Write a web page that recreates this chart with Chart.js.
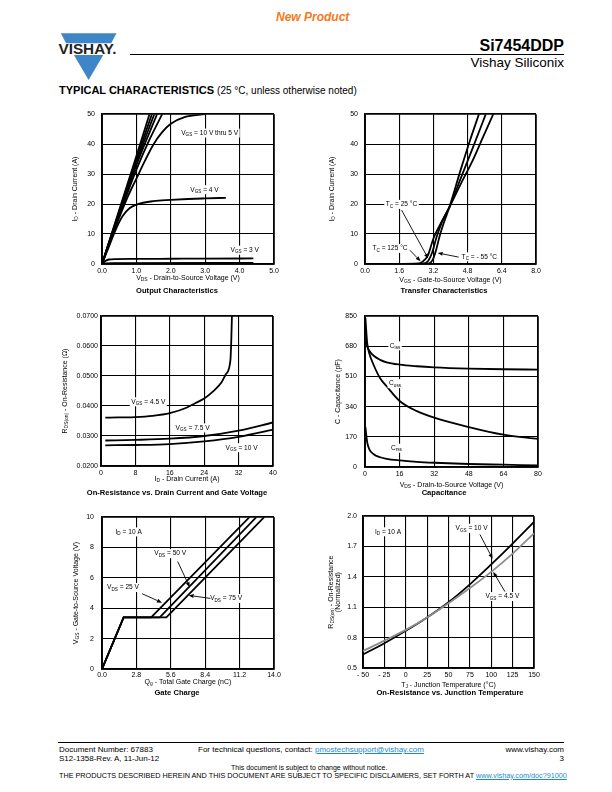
<!DOCTYPE html>
<html>
<head>
<meta charset="utf-8">
<script src="https://cdn.jsdelivr.net/npm/chart.js@4.4.1/dist/chart.umd.min.js"></script>
<style>
  body { margin: 0; background: #fff; font-family: "Liberation Sans", Arial, sans-serif; color: #000; }
  #page { position: relative; width: 612px; height: 792px; overflow: hidden; }
  .t { position: absolute; white-space: nowrap; line-height: 1; }
  .r { text-align: right; }
  .ct { position: absolute; white-space: nowrap; line-height: 1; font-weight: bold; font-size: 7.6px; transform: translateX(-50%); }
  canvas { position: absolute; }
  a { color: #1a8ad4; text-decoration: underline; }
</style>
</head>
<body>
<div id="page">
  <!-- header -->
  <div class="t" style="left:276px;top:11px;font-size:12px;font-weight:bold;font-style:italic;color:#f47920;">New Product</div>
  <svg style="position:absolute;left:0;top:0" width="130" height="90">
    <polygon points="60.8,33.3 116.5,33.3 111.2,43.3 66.1,43.3" fill="#3f86c9"/>
    <polygon points="73.9,55 103.3,55 88.6,80" fill="#3f86c9"/>
    <text x="58.5" y="54" font-family="Liberation Sans, Arial" font-weight="bold" font-size="14" fill="#222" textLength="58" lengthAdjust="spacingAndGlyphs">VISHAY.</text>
  </svg>
  <div style="position:absolute;left:130px;top:53.5px;width:434px;height:1.3px;background:#000"></div>
  <div class="t r" style="right:48px;top:38px;font-size:16px;font-weight:bold;">Si7454DDP</div>
  <div class="t r" style="right:48px;top:56px;font-size:13.5px;">Vishay Siliconix</div>
  <div class="t" style="left:59px;top:84.5px;font-size:11px;font-weight:bold;">TYPICAL CHARACTERISTICS <span style="font-weight:normal;font-size:10px">(25 °C, unless otherwise noted)</span></div>

  <!-- charts -->
  <canvas id="c1"></canvas>
  <canvas id="c2"></canvas>
  <canvas id="c3"></canvas>
  <canvas id="c4"></canvas>
  <canvas id="c5"></canvas>
  <canvas id="c6"></canvas>

  <div class="ct" style="left:177px;top:287px;">Output Characteristics</div>
  <div class="ct" style="left:444px;top:287px;">Transfer Characteristics</div>
  <div class="ct" style="left:177px;top:489px;">On-Resistance vs. Drain Current and Gate Voltage</div>
  <div class="ct" style="left:444px;top:489px;">Capacitance</div>
  <div class="ct" style="left:177px;top:689px;">Gate Charge</div>
  <div class="ct" style="left:450px;top:689px;">On-Resistance vs. Junction Temperature</div>

  <!-- footer -->
  <div style="position:absolute;left:58px;top:741.5px;width:506px;height:1px;background:#000"></div>
  <div class="t" style="left:59px;top:746px;font-size:8px;">Document Number: 67883</div>
  <div class="t" style="left:59px;top:755px;font-size:8px;">S12-1358-Rev. A, 11-Jun-12</div>
  <div class="t" style="left:198px;top:746px;font-size:8px;">For technical questions, contact: <a>pmostechsupport@vishay.com</a></div>
  <div class="t r" style="right:48px;top:746px;font-size:8px;">www.vishay.com</div>
  <div class="t r" style="right:48px;top:755px;font-size:8px;">3</div>
  <div class="t" style="left:231px;top:763.5px;font-size:7px;">This document is subject to change without notice.</div>
  <div class="t" style="left:59px;top:771.5px;font-size:7.25px;">THE PRODUCTS DESCRIBED HEREIN AND THIS DOCUMENT ARE SUBJECT TO SPECIFIC DISCLAIMERS, SET FORTH AT <a>www.vishay.com/doc?91000</a></div>
</div>

<script>
// ---- data: Output Characteristics ----
const outTicksX = [0, 1, 2, 3, 4, 5];
const outLabelsX = ['0.0', '1.0', '2.0', '3.0', '4.0', '5.0'];
const outTicksY = [0, 10, 20, 30, 40, 50];
const outLabelsY = ['0', '10', '20', '30', '40', '50'];
const outV10 = [0, 0.5, 1.0, 1.38];   const outI10 = [0, 18, 36, 50];
const outV9  = [0, 0.5, 1.0, 1.45];   const outI9  = [0, 17.6, 35, 50];
const outV8  = [0, 0.5, 1.0, 1.52];   const outI8  = [0, 17.2, 34, 50];
const outV7  = [0, 0.5, 1.0, 1.6];    const outI7  = [0, 16.8, 33, 50];
const outV6  = [0, 0.5, 1.0, 1.4, 1.75]; const outI6 = [0, 16.2, 31.5, 42, 50];
const outV5  = [0, 0.25, 0.5, 0.75, 1.0, 1.25, 1.5, 1.75, 2.0, 2.4, 3.0];
const outI5  = [0, 8, 15.5, 22.5, 28.5, 34.5, 40, 44, 46.8, 49, 50];
const outV4  = [0, 0.2, 0.4, 0.6, 0.8, 1.0, 1.5, 2.0, 2.5, 3.0, 3.6];
const outI4  = [0, 5.8, 11.5, 16, 18.6, 19.8, 21, 21.4, 21.7, 21.9, 22.1];
const outV3  = [0, 0.1, 0.2, 0.4, 1, 2, 3, 4.4];
const outI3  = [0, 1.0, 1.5, 1.65, 1.7, 1.75, 1.8, 1.85];
const outV2  = [0, 0.1, 0.3, 4.4];    const outI2  = [0, 0.2, 0.3, 0.35];

// ---- data: Transfer Characteristics ----
const trTicksX = [0, 1.6, 3.2, 4.8, 6.4, 8.0];
const trLabelsX = ['0.0', '1.6', '3.2', '4.8', '6.4', '8.0'];
const trTicksY = [0, 10, 20, 30, 40, 50];
const trLabelsY = ['0', '10', '20', '30', '40', '50'];
const trV125 = [0, 2.4, 2.7, 2.95, 3.2, 3.5, 3.95, 4.5, 5.0, 5.5, 6.0];
const trI125 = [0, 0.1, 0.8, 3, 8.5, 13, 19, 27, 34, 42, 50];
const trV25  = [0, 2.7, 2.95, 3.15, 3.35, 3.6, 3.95, 4.5, 5.0, 5.65];
const trI25  = [0, 0.1, 1, 4, 9, 14, 19, 29, 38, 50];
const trVm55 = [0, 2.95, 3.15, 3.3, 3.5, 3.7, 3.95, 4.5, 4.9, 5.33];
const trIm55 = [0, 0.1, 1.2, 4, 9.5, 14, 19, 32, 41, 50];

// ---- data: On-Resistance vs. Drain Current ----
const ronTicksX = [0, 8, 16, 24, 32, 40];
const ronLabelsX = ['0', '8', '16', '24', '32', '40'];
const ronTicksY = [0.02, 0.03, 0.04, 0.05, 0.06, 0.07];
const ronLabelsY = ['0.0200', '0.0300', '0.0400', '0.0500', '0.0600', '0.0700'];
const ronI45 = [1, 4, 8, 12, 16, 20, 22, 24, 26, 28, 29, 30.1, 30.3, 30.45];
const ronR45 = [0.0361, 0.0362, 0.0363, 0.0367, 0.0376, 0.0395, 0.0410, 0.0425, 0.0448, 0.0478, 0.0505, 0.0553, 0.0620, 0.0700];
const ronI = [1, 8, 16, 24, 32, 40];
const ronR75 = [0.0285, 0.0287, 0.0291, 0.0300, 0.0318, 0.0345];
const ronR10 = [0.0269, 0.0270, 0.0273, 0.0282, 0.0297, 0.0321];

// ---- data: Capacitance ----
const capTicksX = [0, 16, 32, 48, 64, 80];
const capLabelsX = ['0', '16', '32', '48', '64', '80'];
const capTicksY = [0, 170, 340, 510, 680, 850];
const capLabelsY = ['0', '170', '340', '510', '680', '850'];
const capV = [0.2, 1, 2, 4, 7, 10, 16, 24, 32, 48, 64, 80];
const capCiss = [715, 680, 655, 627, 604, 590, 577, 568, 562, 555, 551, 549];
const capCoss = [840, 700, 640, 575, 500, 455, 372, 315, 278, 225, 182, 158];
const capCrss = [225, 140, 100, 72, 55, 46, 37, 29, 24, 17, 13, 9];

// ---- data: Gate Charge ----
const gcTicksX = [0, 2.8, 5.6, 8.4, 11.2, 14.0];
const gcLabelsX = ['0.0', '2.8', '5.6', '8.4', '11.2', '14.0'];
const gcTicksY = [0, 2, 4, 6, 8, 10];
const gcLabelsY = ['0', '2', '4', '6', '8', '10'];
const gcVgs = [0, 3.4, 3.4, 10];
const gcQ25 = [0, 1.76, 4.0, 12.0];
const gcQ50 = [0, 1.76, 4.7, 12.56];
const gcQ75 = [0, 1.76, 5.24, 13.2];

// ---- data: On-Resistance vs. Junction Temperature ----
const tjTicksX = [-50, -25, 0, 25, 50, 75, 100, 125, 150];
const tjLabelsX = ['- 50', '- 25', '0', '25', '50', '75', '100', '125', '150'];
const tjTicksY = [0.5, 0.8, 1.1, 1.4, 1.7, 2.0];
const tjLabelsY = ['0.5', '0.8', '1.1', '1.4', '1.7', '2.0'];
const tjT = [-50, -25, 0, 25, 50, 75, 100, 125, 150];
const tjR10 = [0.633, 0.745, 0.868, 1.0, 1.15, 1.327, 1.524, 1.73, 1.944];
const tjR45 = [0.668, 0.77, 0.877, 1.0, 1.14, 1.29, 1.45, 1.63, 1.83];

const FONT = '"Liberation Sans", Arial, sans-serif';

// texte avec indices: "V_{GS}"
function drawRich(ctx, str, x, y, size, align) {
  const parts = [];
  const re = /_\{([^}]*)\}/g;
  let last = 0, m;
  while ((m = re.exec(str))) {
    if (m.index > last) parts.push({ s: str.slice(last, m.index), sub: false });
    parts.push({ s: m[1], sub: true });
    last = re.lastIndex;
  }
  if (last < str.length) parts.push({ s: str.slice(last), sub: false });
  let w = 0;
  parts.forEach(p => {
    ctx.font = (p.sub ? size * 0.7 : size) + 'px ' + FONT;
    p.w = ctx.measureText(p.s).width;
    w += p.w;
  });
  let cx = align === 'center' ? x - w / 2 : align === 'right' ? x - w : x;
  ctx.textAlign = 'left';
  ctx.textBaseline = 'middle';
  parts.forEach(p => {
    ctx.font = (p.sub ? size * 0.7 : size) + 'px ' + FONT;
    ctx.fillText(p.s, cx, p.sub ? y + size * 0.3 : y);
    cx += p.w;
  });
  return w;
}

function measureRich(ctx, str, size) {
  ctx.save();
  ctx.globalAlpha = 0;
  const w = drawRich(ctx, str, -1000, -1000, size, 'left');
  ctx.restore();
  return w;
}

function drawArrow(ctx, x1, y1, x2, y2) {
  const a = Math.atan2(y2 - y1, x2 - x1);
  const L = 5, hw = 2;
  ctx.beginPath();
  ctx.moveTo(x1, y1);
  ctx.lineTo(x2 - L * Math.cos(a), y2 - L * Math.sin(a));
  ctx.lineWidth = 0.9;
  ctx.strokeStyle = '#000';
  ctx.stroke();
  ctx.beginPath();
  ctx.moveTo(x2, y2);
  ctx.lineTo(x2 - L * Math.cos(a) + hw * Math.sin(a), y2 - L * Math.sin(a) - hw * Math.cos(a));
  ctx.lineTo(x2 - L * Math.cos(a) - hw * Math.sin(a), y2 - L * Math.sin(a) + hw * Math.cos(a));
  ctx.closePath();
  ctx.fillStyle = '#000';
  ctx.fill();
}

// annotations par canvas
const notes = {
  c1: { xTitle: 'V_{DS} - Drain-to-Source Voltage (V)', xOff: 14, yTitle: ['I_{D} - Drain Current (A)'], yOff: [-27],
        labels: [[3.13, 43.7, 'V_{GS} = 10 V thru 5 V'], [2.98, 24.8, 'V_{GS} = 4 V'], [4.15, 4.6, 'V_{GS} = 3 V']], arrows: [] },
  c2: { xTitle: 'V_{GS} - Gate-to-Source Voltage (V)', xOff: 16, yTitle: ['I_{D} - Drain Current (A)'], yOff: [-33],
        labels: [[1.71, 19.9, 'T_{C} = 25 °C'], [1.17, 5.2, 'T_{C} = 125 °C'], [5.35, 2.4, 'T_{C} = - 55 °C']],
        arrows: [[1.71, 18.0, 2.96, 1.8], [2.1, 4.6, 2.6, 0.9], [4.38, 2.3, 3.4, 3.7]] },
  c3: { xTitle: 'I_{D} - Drain Current (A)', xOff: 13, yTitle: ['R_{DS(on)} - On-Resistance (Ω)'], yOff: [-36],
        labels: [[11, 0.0414, 'V_{GS} = 4.5 V'], [21.3, 0.0327, 'V_{GS} = 7.5 V'], [32.7, 0.0261, 'V_{GS} = 10 V']], arrows: [] },
  c4: { xTitle: 'V_{DS} - Drain-to-Source Voltage (V)', xOff: 18, yTitle: ['C - Capacitance (pF)'], yOff: [-27],
        labels: [[13.9, 683, 'C_{iss}'], [13.9, 470, 'C_{oss}'], [14.5, 106, 'C_{rss}']], arrows: [] },
  c5: { xTitle: 'Q_{g} - Total Gate Charge (nC)', xOff: 13, yTitle: ['V_{GS} - Gate-to-Source Voltage (V)'], yOff: [-26],
        labels: [[2.17, 9.03, 'I_{D} = 10 A'], [5.56, 7.6, 'V_{DS} = 50 V'], [1.71, 5.37, 'V_{DS} = 25 V'], [10.1, 4.65, 'V_{DS} = 75 V']],
        arrows: [[6.16, 7.08, 7.14, 5.39], [3.26, 4.96, 4.88, 4.37], [8.82, 4.65, 7.05, 4.85]] },
  c6: { xTitle: 'T_{J} - Junction Temperature (°C)', xOff: 17, yTitle: ['R_{DS(on)} - On-Resistance', '(Normalized)'], yOff: [-32, -25],
        labels: [[-20.7, 1.846, 'I_{D} = 10 A'], [77, 1.88, 'V_{GS} = 10 V'], [113, 1.206, 'V_{GS} = 4.5 V']],
        arrows: [[86.7, 1.82, 101.6, 1.58], [116, 1.255, 102.3, 1.45]] }
};

const notesPlugin = {
  id: 'notes',
  afterDraw(chart) {
    const n = notes[chart.canvas.id];
    if (!n) return;
    const ctx = chart.ctx, a = chart.chartArea, sx = chart.scales.x, sy = chart.scales.y;
    ctx.save();
    ctx.fillStyle = '#000';
    drawRich(ctx, n.xTitle, (a.left + a.right) / 2, a.bottom + n.xOff, 7, 'center');
    n.yTitle.forEach((t, i) => {
      ctx.save();
      ctx.translate(a.left + n.yOff[i], (a.top + a.bottom) / 2);
      ctx.rotate(-Math.PI / 2);
      ctx.fillStyle = '#000';
      drawRich(ctx, t, 0, 0, 7, 'center');
      ctx.restore();
    });
    n.labels.forEach(l => {
      const px = sx.getPixelForValue(l[0]), py = sy.getPixelForValue(l[1]);
      const w = measureRich(ctx, l[2], 6.6);
      ctx.fillStyle = '#fff';
      ctx.fillRect(px - w / 2 - 1.5, py - 4.5, w + 3, 9);
      ctx.fillStyle = '#000';
      drawRich(ctx, l[2], px, py, 6.6, 'center');
    });
    n.arrows.forEach(ar => drawArrow(ctx,
      sx.getPixelForValue(ar[0]), sy.getPixelForValue(ar[1]),
      sx.getPixelForValue(ar[2]), sy.getPixelForValue(ar[3])));
    ctx.restore();
  }
};
Chart.register(notesPlugin);

const YW = 52, XH = 32, PT = 10, PR = 14;

function pts(xs, ys) { return xs.map((v, i) => ({ x: v, y: ys[i] })); }

function axis(min, max, ticks, labels, pad, isX) {
  const last = ticks.length - 1;
  return {
    type: 'linear', min: min, max: max,
    afterBuildTicks: s => { s.ticks = ticks.map(v => ({ value: v })); },
    afterFit: s => { if (isX) s.height = XH; else s.width = YW; },
    ticks: { callback: (v, i) => labels[i], font: { size: 7, family: FONT }, color: '#000', padding: pad, maxRotation: 0, autoSkip: false },
    grid: { color: '#000', lineWidth: c => (c.index === 0 || c.index === last) ? 1.8 : 1.1, drawTicks: false },
    border: { color: '#000', width: 1.8 }
  };
}

function line(data, color, smooth) {
  return {
    data: data, borderColor: color || '#000', borderWidth: 1.8, pointRadius: 0,
    fill: false, cubicInterpolationMode: smooth === false ? 'default' : 'monotone', tension: 0
  };
}

function makeChart(id, rect, datasets, xs, ys) {
  const cv = document.getElementById(id);
  cv.width = rect[2] + YW + PR;
  cv.height = rect[3] + PT + XH;
  cv.style.left = (rect[0] - YW) + 'px';
  cv.style.top = (rect[1] - PT) + 'px';
  new Chart(cv.getContext('2d'), {
    type: 'line',
    data: { datasets: datasets },
    options: {
      responsive: false, animation: false, devicePixelRatio: 1,
      layout: { padding: { top: PT, right: PR, left: 0, bottom: 0 } },
      plugins: { legend: { display: false }, tooltip: { enabled: false } },
      scales: { x: xs, y: ys }
    }
  });
}

makeChart('c1', [102, 113, 172, 151], [
  line(pts(outV10, outI10)), line(pts(outV9, outI9)), line(pts(outV8, outI8)),
  line(pts(outV7, outI7)), line(pts(outV6, outI6)), line(pts(outV5, outI5)),
  line(pts(outV4, outI4)), line(pts(outV3, outI3)), line(pts(outV2, outI2))
], axis(0, 5, outTicksX, outLabelsX, 3, true), axis(0, 50, outTicksY, outLabelsY, 7, false));

makeChart('c2', [365, 113, 171, 151], [
  line(pts(trV125, trI125)), line(pts(trV25, trI25)), line(pts(trVm55, trIm55))
], axis(0, 8, trTicksX, trLabelsX, 3, true), axis(0, 50, trTicksY, trLabelsY, 7, false));

makeChart('c3', [101, 316, 172, 150], [
  line(pts(ronI45, ronR45)), line(pts(ronI, ronR75)), line(pts(ronI, ronR10))
], axis(0, 40, ronTicksX, ronLabelsX, 3, true), axis(0.02, 0.07, ronTicksY, ronLabelsY, 3, false));

makeChart('c4', [365, 314, 173, 153], [
  line(pts(capV, capCiss)), line(pts(capV, capCoss)), line(pts(capV, capCrss))
], axis(0, 80, capTicksX, capLabelsX, 3, true), axis(0, 850, capTicksY, capLabelsY, 8, false));

makeChart('c5', [102, 515, 172, 154], [
  line(pts(gcQ25, gcVgs), '#000', false), line(pts(gcQ50, gcVgs), '#000', false), line(pts(gcQ75, gcVgs), '#000', false)
], axis(0, 14, gcTicksX, gcLabelsX, 2, true), axis(0, 10, gcTicksY, gcLabelsY, 8, false));

makeChart('c6', [363, 516, 171, 152], [
  line(pts(tjT, tjR45), '#8c8c8c'), line(pts(tjT, tjR10), '#000')
], axis(-50, 150, tjTicksX, tjLabelsX, 3, true), axis(0.5, 2.0, tjTicksY, tjLabelsY, 6, false));
</script>
</body>
</html>
